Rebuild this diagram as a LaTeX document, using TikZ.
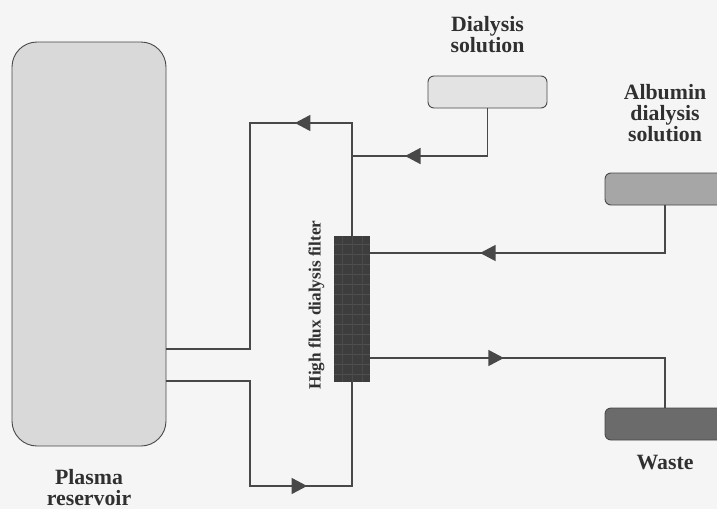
\documentclass[tikz,border=0pt]{standalone}
\usepackage{fontspec}
\setmainfont{Liberation Serif}
\usetikzlibrary{arrows.meta,decorations.markings}
\definecolor{paper}{HTML}{F5F5F5}
\definecolor{inkline}{HTML}{484848}
\definecolor{inktext}{HTML}{303030}
\tikzset{
  px/.style={x=1pt,y=-1pt},
  tank/.style={draw=inkline,line width=0.9pt,rounded corners=#1,inner sep=0pt,outer sep=0pt},
  tank/.default=6pt,
  flow/.style={draw=inkline,line width=1.5pt,line join=miter},
  label/.style={font=\bfseries\fontsize{21.8}{21}\selectfont,text=inktext,align=center,inner sep=0pt},
  head/.style={decoration={markings,mark=at position #1 with {\arrow{Triangle[length=15.5pt,width=16pt]}}},postaction={decorate}},
}
\begin{document}
\begin{tikzpicture}[px]
\path[fill=paper] (0,0) rectangle (717,509);
\useasboundingbox (0,0) rectangle (717,509);
\node[tank=25pt,fill=black!15,minimum width=154pt,minimum height=404pt] (res) at (89,244) {};
\node[tank,fill=black!11,minimum width=119pt,minimum height=32pt] (dial) at (487.5,92) {};
\begin{scope}
\clip (0,0) rectangle (717,509);
\node[tank,fill=black!35,minimum width=120pt,minimum height=32pt] (alb) at (665,189) {};
\node[tank,fill=black!58,minimum width=120pt,minimum height=32pt] (waste) at (665,424) {};
\end{scope}
\node[fill=black!76,minimum width=36pt,minimum height=146pt,inner sep=0pt,outer sep=0pt] (filt) at (352,309) {};
\foreach \y in {244,254,...,374} \draw[black!69,line width=0.5pt] (334,\y) -- (370,\y);
\foreach \x in {342,352,362} \draw[black!71,line width=0.5pt] (\x,236) -- (\x,382);
\node[label,rotate=90,font=\bfseries\fontsize{17.2}{17}\selectfont] (filtlabel) at (316.5,305) {High flux dialysis filter};
\node[label] (diallabel) at (487.5,34.5) {Dialysis\\solution};
\node[label] (alblabel) at (665,113) {Albumin\\dialysis\\solution};
\node[label] (wastelabel) at (665,463) {Waste};
\node[label] (reslabel) at (89,487.5) {Plasma\\reservoir};
\coordinate (j1) at (352,123);
\coordinate (j2) at (352,156);
\path[flow,head=0.324] (filt.north) -- (j1) -- (250,123) -- (250,349) -- (res.east |- 0,349);
\path[flow,head=0.711] (dial.south) -- (487.5,156) -- (j2);
\path[flow,head=0.679] (alb.south) -- (665,253) -- (filt.east |- 0,253);
\path[flow,head=0.388] (filt.east |- 0,358) -- (665,358) -- (waste.north);
\path[flow,head=0.623] (res.east |- 0,381) -- (250,381) -- (250,486) -- (352,486) -- (filt.south);
\end{tikzpicture}
\end{document}
